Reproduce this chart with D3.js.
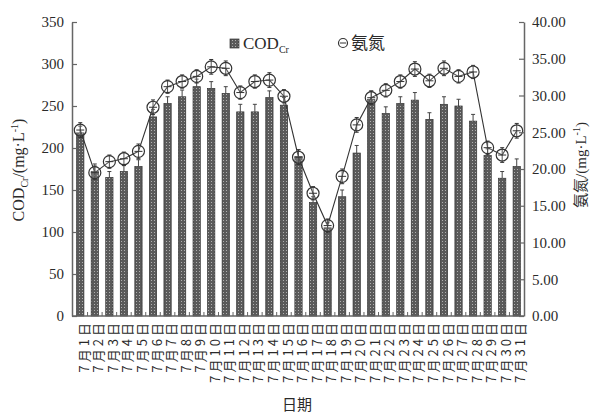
<!DOCTYPE html>
<html><head><meta charset="utf-8">
<script src="https://cdn.jsdelivr.net/npm/d3@7"></script>
<style>
body{margin:0;background:#fff;}
svg text{font-family:"Liberation Serif","DejaVu Serif",serif;fill:#2a2a2a;}
.cjk{font-family:"Noto Sans CJK SC","Noto Sans CJK JP",sans-serif;}
</style></head>
<body><svg id="c" width="603" height="415"></svg>
<script>
const categories = ["7月1日","7月2日","7月3日","7月4日","7月5日","7月6日","7月7日","7月8日","7月9日","7月10日","7月11日","7月12日","7月13日","7月14日","7月15日","7月16日","7月17日","7月18日","7月19日","7月20日","7月21日","7月22日","7月23日","7月24日","7月25日","7月26日","7月27日","7月28日","7月29日","7月30日","7月31日"];
const codValues = [218,172,165,172,178,237,253,261,273,271,265,243,243,260,251,190,135,105,142,194,258,241,253,257,234,252,250,232,191,164,178];
const codErr = [8,9,7,7,8,9,8,8,9,8,8,9,9,8,9,8,7,6,8,9,10,8,8,9,8,9,8,8,8,8,9];
const nh3Values = [25.3,19.5,21.0,21.4,22.4,28.4,31.2,31.9,32.6,33.9,33.7,30.4,31.9,32.1,29.9,21.6,16.7,12.3,19.0,26.0,29.7,30.7,31.9,33.6,32.0,33.7,32.6,33.2,22.9,21.9,25.2];
const nh3Err = [1.0,0.9,0.9,0.9,1.0,1.0,0.9,0.9,0.9,1.0,1.0,0.9,0.9,1.0,0.9,1.0,0.9,0.9,1.0,1.0,0.9,0.9,0.9,1.0,0.9,1.0,0.9,0.9,0.9,1.0,1.0];
const leftTicks = [0,50,100,150,200,250,300,350];
const rightTicks = [0,5,10,15,20,25,30,35,40];

const svg = d3.select("#c");
const L = 72, R = 524, T = 22, B = 316;
const x = d3.scaleBand().domain(categories).range([L+1, R]).paddingInner(0.5).paddingOuter(0.25);
const yL = d3.scaleLinear().domain([0,350]).range([B, T]);
const yR = d3.scaleLinear().domain([0,40]).range([B, T]);

const defs = svg.append("defs");
const pat = defs.append("pattern").attr("id","dots").attr("width",3).attr("height",3).attr("patternUnits","userSpaceOnUse");
pat.append("rect").attr("width",3).attr("height",3).attr("fill","#5a5a5a");
pat.append("rect").attr("x",1).attr("y",1).attr("width",1).attr("height",1).attr("fill","#b0b0b0");

// bars
const bw = x.bandwidth();
svg.append("g").selectAll("rect").data(codValues).join("rect")
  .attr("x",(d,i)=>x(categories[i])).attr("y",d=>yL(d))
  .attr("width",bw).attr("height",d=>B-yL(d))
  .attr("fill","url(#dots)").attr("stroke","#333").attr("stroke-width",0.7);
// bar error bars
const eb = svg.append("g").attr("stroke","#444").attr("stroke-width",1);
codValues.forEach((v,i)=>{
  const cx = x(categories[i])+bw/2;
  eb.append("line").attr("x1",cx).attr("x2",cx).attr("y1",yL(v)).attr("y2",yL(v+codErr[i]));
  eb.append("line").attr("x1",cx-2).attr("x2",cx+2).attr("y1",yL(v+codErr[i])).attr("y2",yL(v+codErr[i]));
});

// NH3 line
const line = d3.line().x((d,i)=>x(categories[i])+bw/2).y(d=>yR(d));
svg.append("path").datum(nh3Values).attr("d",line).attr("fill","none").attr("stroke","#333").attr("stroke-width",1.1);
const mk = svg.append("g").attr("stroke","#333").attr("fill","none");
nh3Values.forEach((v,i)=>{
  const cx = x(categories[i])+bw/2, cy = yR(v);
  mk.append("line").attr("x1",cx).attr("x2",cx).attr("y1",yR(v-nh3Err[i])).attr("y2",yR(v+nh3Err[i])).attr("stroke-width",1);
  mk.append("line").attr("x1",cx-2).attr("x2",cx+2).attr("y1",yR(v+nh3Err[i])).attr("y2",yR(v+nh3Err[i]));
  mk.append("line").attr("x1",cx-2).attr("x2",cx+2).attr("y1",yR(v-nh3Err[i])).attr("y2",yR(v-nh3Err[i]));
  mk.append("circle").attr("cx",cx).attr("cy",cy).attr("r",6).attr("stroke-width",1.2).attr("fill","rgba(255,255,255,0.15)");
  mk.append("line").attr("x1",cx-4).attr("x2",cx+4).attr("y1",cy).attr("y2",cy).attr("stroke-width",1);
});

// axes
const axisColor = "#666";
const gl = svg.append("g").attr("transform",`translate(${L},0)`)
  .call(d3.axisLeft(yL).tickValues(leftTicks).tickSizeInner(-5).tickSizeOuter(0).tickPadding(8));
const gr = svg.append("g").attr("transform",`translate(${R},0)`)
  .call(d3.axisRight(yR).tickValues(rightTicks).tickSizeInner(-5).tickSizeOuter(0).tickPadding(8).tickFormat(d3.format(".2f")));
[gl,gr].forEach(g=>{
  g.select(".domain").attr("stroke",axisColor).attr("stroke-width",1.5);
  g.selectAll(".tick line").attr("stroke",axisColor).attr("stroke-width",1.2);
  g.selectAll(".tick text").attr("font-size",15).attr("fill","#2a2a2a").attr("font-family","Liberation Serif");
});
const gb = svg.append("g").attr("transform",`translate(0,${B})`)
  .call(d3.axisBottom(x).tickSize(0).tickPadding(0));
gb.select(".domain").attr("stroke",axisColor).attr("stroke-width",1.5).attr("d",`M${L},0H${R}`);
gb.selectAll(".tick text").attr("class","cjk").attr("font-size",13).attr("letter-spacing","3px")
  .attr("text-anchor","end").attr("transform","rotate(-90)")
  .attr("x",-4).attr("y",4).attr("dy","0.35em").attr("fill","#2a2a2a");
// minor x ticks at band boundaries
const step = x.step();
const bt = svg.append("g").attr("stroke",axisColor).attr("stroke-width",1);
categories.forEach((c,i)=>{
  if(i===0) return;
  const bx = x(c) - (step-bw)/2;
  bt.append("line").attr("x1",bx).attr("x2",bx).attr("y1",B).attr("y2",B-4);
});

// axis titles
const lt = svg.append("text").attr("transform","translate(24,170) rotate(-90)").attr("text-anchor","middle").attr("font-size",16);
lt.append("tspan").text("COD");
lt.append("tspan").attr("font-size",10).attr("dy",4).text("Cr");
lt.append("tspan").attr("dy",-4).text("/(mg·L");
lt.append("tspan").attr("font-size",10).attr("dy",-6).text("-1");
lt.append("tspan").attr("dy",6).text(")");
const rt = svg.append("text").attr("transform","translate(586,165) rotate(-90)").attr("text-anchor","middle").attr("font-size",15);
rt.append("tspan").attr("class","cjk").text("氨氮");
rt.append("tspan").text("/(mg·L");
rt.append("tspan").attr("font-size",10).attr("dy",-6).text("-1");
rt.append("tspan").attr("dy",6).text(")");
svg.append("text").attr("class","cjk").attr("x",297).attr("y",410).attr("text-anchor","middle").attr("font-size",15).text("日期");

// legend
svg.append("rect").attr("x",230).attr("y",39).attr("width",9).attr("height",9).attr("fill","url(#dots)").attr("stroke","#333").attr("stroke-width",0.7);
const lg = svg.append("text").attr("x",243).attr("y",49).attr("font-size",17);
lg.append("tspan").text("COD");
lg.append("tspan").attr("font-size",10).attr("dy",4).text("Cr");
svg.append("circle").attr("cx",343).attr("cy",43).attr("r",4.5).attr("fill","none").attr("stroke","#333").attr("stroke-width",1.2);
svg.append("line").attr("x1",340).attr("x2",346).attr("y1",43).attr("y2",43).attr("stroke","#333");
svg.append("text").attr("class","cjk").attr("x",351).attr("y",49).attr("font-size",17).text("氨氮");
</script></body></html>
